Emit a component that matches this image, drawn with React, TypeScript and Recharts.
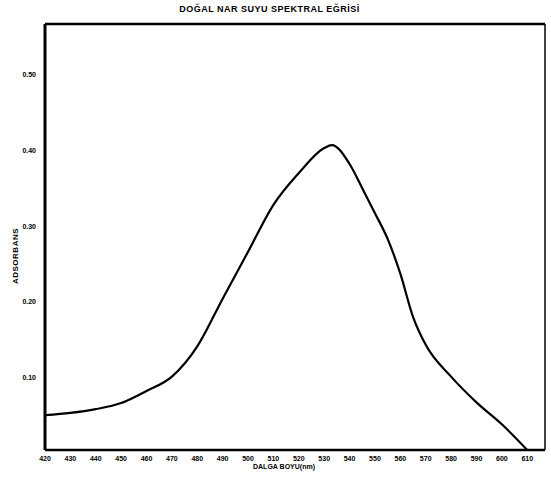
import { Line, LineChart, ReferenceLine, XAxis, YAxis } from "recharts";

// dalga boyu (nm) ve absorbans
const wavelengths = [420, 430, 440, 450, 460, 470, 480, 490, 500, 510, 520, 530, 533, 540, 545, 550, 555, 560, 565, 570, 580, 590, 600, 610];
const absorbance = [0.05, 0.053, 0.058, 0.066, 0.082, 0.101, 0.141, 0.204, 0.266, 0.328, 0.37, 0.403, 0.407, 0.382, 0.35, 0.317, 0.283, 0.237, 0.18, 0.143, 0.101, 0.067, 0.038, 0.004];

const xTicks = [420, 430, 440, 450, 460, 470, 480, 490, 500, 510, 520, 530, 540, 550, 560, 570, 580, 590, 600, 610];
const yTicks = [0.1, 0.2, 0.3, 0.4, 0.5];
const xDomain = [420, 617];
const yDomain = [0.006, 0.567];

const data = wavelengths.map((w, i) => ({ nm: w, abs: absorbance[i] }));

const font = "'Liberation Sans', Arial, sans-serif";
const tickStyle = { fontSize: 7, fontWeight: 700, fill: "#000", fontFamily: font };

export default function App() {
  return (
    <div style={{ position: "absolute", left: 0, top: 0, width: 551, height: 479, background: "#fff" }}>
      <div
        style={{
          position: "absolute",
          left: 0,
          width: 551,
          top: 4,
          textAlign: "center",
          fontFamily: font,
          fontWeight: 700,
          fontSize: 9,
          letterSpacing: 0.5,
          transform: "translateX(-6px)",
        }}
      >
        DOĞAL NAR SUYU SPEKTRAL EĞRİSİ
      </div>
      <div
        style={{
          position: "absolute",
          left: 15,
          top: 256,
          fontFamily: font,
          fontWeight: 700,
          fontSize: 8,
          letterSpacing: 0.5,
          transform: "translate(-50%, -50%) rotate(-90deg)",
          whiteSpace: "nowrap",
        }}
      >
        ADSORBANS
      </div>
      <div
        style={{
          position: "absolute",
          left: 253,
          top: 463,
          fontFamily: font,
          fontWeight: 700,
          fontSize: 7,
        }}
      >
        DALGA BOYU(nm)
      </div>
      <LineChart
        width={551}
        height={479}
        data={data}
        margin={{ top: 24, right: 6, bottom: 15, left: 10 }}
      >
        <XAxis
          dataKey="nm"
          type="number"
          domain={xDomain}
          ticks={xTicks}
          interval={0}
          tickLine={false}
          tickMargin={0}
          height={14}
          axisLine={{ stroke: "#000", strokeWidth: 2.5 }}
          tick={tickStyle}
        />
        <YAxis
          type="number"
          domain={yDomain}
          ticks={yTicks}
          interval={0}
          width={35}
          tickLine={false}
          tickMargin={3}
          tickFormatter={(v: number) => v.toFixed(2)}
          axisLine={{ stroke: "#000", strokeWidth: 3 }}
          tick={tickStyle}
        />
        <ReferenceLine y={yDomain[1]} stroke="#000" strokeWidth={2.5} />
        <ReferenceLine x={xDomain[1]} stroke="#000" strokeWidth={1.5} />
        <Line
          type="monotone"
          dataKey="abs"
          stroke="#000"
          strokeWidth={2.2}
          dot={false}
          activeDot={false}
          isAnimationActive={false}
        />
      </LineChart>
    </div>
  );
}
